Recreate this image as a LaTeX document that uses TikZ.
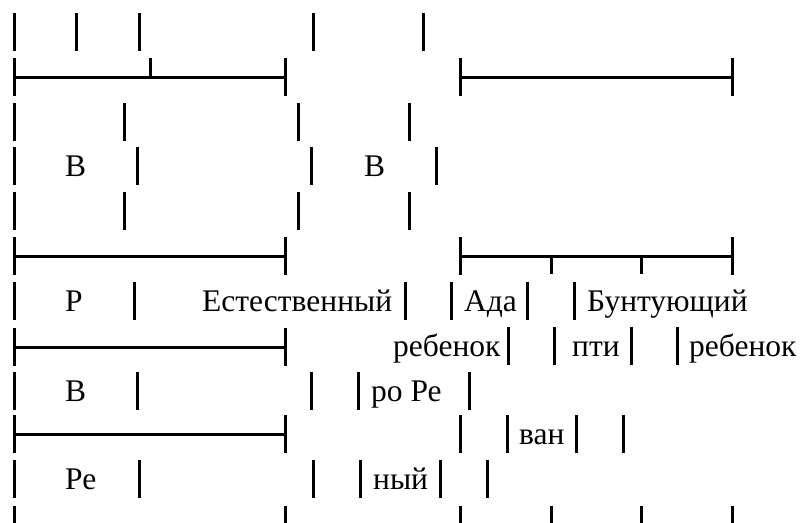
\documentclass[tikz,border=0pt]{standalone}
\usepackage{fontspec}
\IfFontExistsTF{Liberation Serif}{}{\errmessage{LIBERATION SERIF NOT FOUND}}
\newfontfamily\tnr{Liberation Serif}
\begin{document}
\begin{tikzpicture}[x=1pt,y=-1pt,
  bar/.style={line width=3pt},
  txt/.style={anchor=base west,inner sep=0pt,font=\tnr\fontsize{31.5}{36}\selectfont}]
\useasboundingbox (0,0) rectangle (802,522);
\newcommand\barrow[3]{\foreach \xx in {#3}{\draw[bar] (\xx,#1) -- (\xx,#2);}}
\barrow{13}{51}{14,76,139,313,423}
\barrow{103}{141}{14,124,298,409}
\barrow{147}{185}{14,137,311,436}
\barrow{192}{230}{14,124,298,409}
\barrow{282}{320}{14,134,405,451,527,574}
\barrow{327}{365}{508,554,631,677}
\barrow{372}{410}{14,137,311,358,469}
\barrow{415}{453}{460,507,576,623}
\barrow{460}{498}{14,139,313,360,440,487}
\barrow{506}{530}{14,285,460,551,641,732}
\newcommand\tickrule[3]{\draw[bar] (#1,#3) -- (#2,#3);
  \draw[bar] (#1,#3-19) -- (#1,#3+19); \draw[bar] (#2,#3-19) -- (#2,#3+19);}
\tickrule{14}{285}{77}
\draw[bar] (150,58) -- (150,77);
\tickrule{460}{732}{77}
\tickrule{14}{285}{256}
\tickrule{460}{732}{256}
\draw[bar] (551,256) -- (551,274);
\draw[bar] (641,256) -- (641,274);
\tickrule{14}{285}{347}
\tickrule{14}{285}{434}
\node[txt] (t1) at (65,176) {В};
\node[txt] (t2) at (364,176) {В};
\node[txt] (t3) at (65,311) {Р};
\node[txt] (t4) at (202,311) {Естественный};
\node[txt] (t5) at (464,311) {Ада};
\node[txt] (t6) at (587,311) {Бунтующий};
\node[txt] (t7) at (393,356) {ребенок};
\node[txt] (t8) at (572,356) {пти};
\node[txt] (t9) at (689,356) {ребенок};
\node[txt] (t10) at (65,401) {В};
\node[txt] (t11) at (371,401) {ро Ре};
\node[txt] (t12) at (519,444) {ван};
\node[txt] (t13) at (65,489) {Ре};
\node[txt] (t14) at (373,489) {ный};
\end{tikzpicture}
\end{document}
